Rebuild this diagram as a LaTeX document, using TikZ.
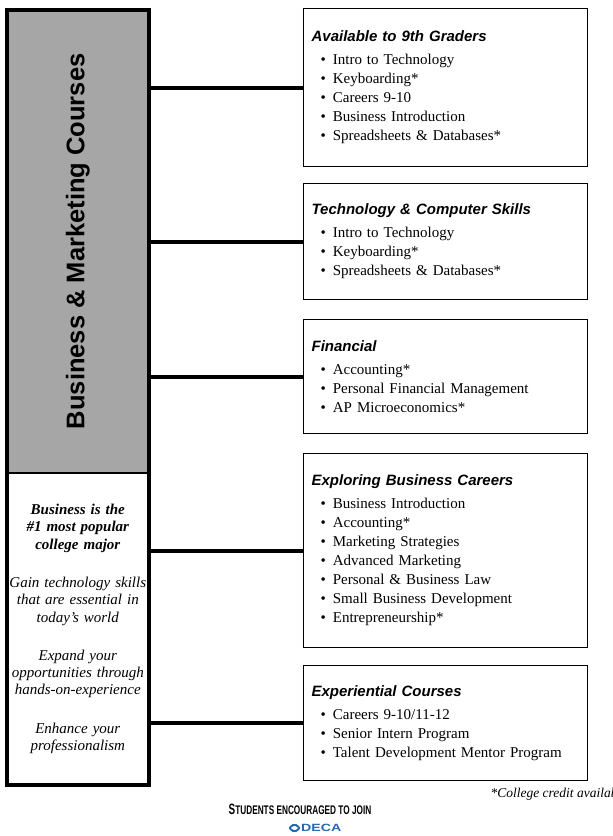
\documentclass[tikz,border=0pt]{standalone}
\usepackage{fontspec}
\setmainfont{Liberation Serif}
\setsansfont{Liberation Sans}
\newfontfamily\narrowsans[FakeStretch=0.66]{Liberation Sans}
\newfontfamily\widesans[FakeStretch=1.35]{Liberation Sans}
\usetikzlibrary{positioning}
\definecolor{panelgray}{RGB}{166,166,166}
\definecolor{decablue}{RGB}{40,105,175}
\newcommand{\crshead}[1]{{\sffamily\bfseries\itshape #1}}
\newcommand{\crs}[1]{\hspace*{9pt}\textbullet\hspace{7pt}#1}

\begin{document}
\begin{tikzpicture}[x=1pt, y=-1pt,
		course/.style = {draw, line width=1.2pt, anchor=north west, minimum width=284pt, text width=268pt, inner xsep=8pt, align=left, font=\fontsize{15}{19}\selectfont},
		link/.style = {line width=4pt},
		frame/.style = {line width=4pt},
		notetext/.style = {text width=141pt, inner xsep=0pt, align=center, font=\fontsize{15}{17.3}\selectfont\itshape}
	]
	\useasboundingbox (0,0) rectangle (613,836);
	% left panel
	\node (head) [fill=panelgray, draw, line width=0.6pt, anchor=north west, minimum width=141pt, minimum height=462pt] at (7,10) {};
	\node (notes) [fill=white, draw, line width=0.6pt, below=0pt of head, minimum width=141pt, minimum height=312pt, notetext] {%
		{\bfseries Business is the\\ \#1 most popular\\ college major}\\[21pt]
		Gain technology skills\\ that are essential in\\ today's world\\[21pt]
		Expand your\\ opportunities through\\ hands-on-experience\\[21pt]
		Enhance your\\ professionalism};
	\draw[frame] (head.north west) rectangle (notes.south east);
	\node (title) [rotate=90, font=\fontsize{25.5}{26}\selectfont\sffamily\bfseries] at (head.center) {Business \& Marketing Courses};
	% course boxes
	\node (avail) [course, minimum height=158pt] at (303,8) {\crshead{Available to 9th Graders}\\[4pt]
		\crs{Intro to Technology}\\ \crs{Keyboarding*}\\ \crs{Careers 9-10}\\ \crs{Business Introduction}\\ \crs{Spreadsheets \& Databases*}};
	\node (tech) [course, minimum height=116pt] at (303,183) {\crshead{Technology \& Computer Skills}\\[4pt]
		\crs{Intro to Technology}\\ \crs{Keyboarding*}\\ \crs{Spreadsheets \& Databases*}};
	\node (fin) [course, minimum height=114pt] at (303,319) {\crshead{Financial}\\[4pt]
		\crs{Accounting*}\\ \crs{Personal Financial Management}\\ \crs{AP Microeconomics*}};
	\node (explore) [course, minimum height=194pt] at (303,453) {\crshead{Exploring Business Careers}\\[4pt]
		\crs{Business Introduction}\\ \crs{Accounting*}\\ \crs{Marketing Strategies}\\ \crs{Advanced Marketing}\\ \crs{Personal \& Business Law}\\ \crs{Small Business Development}\\ \crs{Entrepreneurship*}};
	\node (exper) [course, minimum height=115pt] at (303,665) {\crshead{Experiential Courses}\\[4pt]
		\crs{Careers 9-10/11-12}\\ \crs{Senior Intern Program}\\ \crs{Talent Development Mentor Program}};
	\foreach \b in {avail,tech,fin,explore,exper}{ \draw[link] (head.east |- \b.west) -- (\b.west);}
	% footer
	\node (credit) [anchor=base west, font=\fontsize{13.5}{16}\selectfont\itshape] at (487,797) {*College credit available};
	\node (join) [font=\narrowsans\bfseries] at (300,809) {{\fontsize{15}{15}\selectfont S}{\fontsize{12.5}{15}\selectfont TUDENTS ENCOURAGED TO JOIN}};
	\node (deca) [anchor=west, inner sep=0pt, text=decablue, font=\widesans\bfseries\fontsize{10.5}{11}\selectfont] at (301,828) {DECA};
	\draw[decablue, line width=2pt, rounded corners=2pt] ([xshift=-12pt]deca.west) -- ++(5.5,-4) -- ++(5.5,4) -- ++(-5.5,4) -- cycle;
\end{tikzpicture}
\end{document}
